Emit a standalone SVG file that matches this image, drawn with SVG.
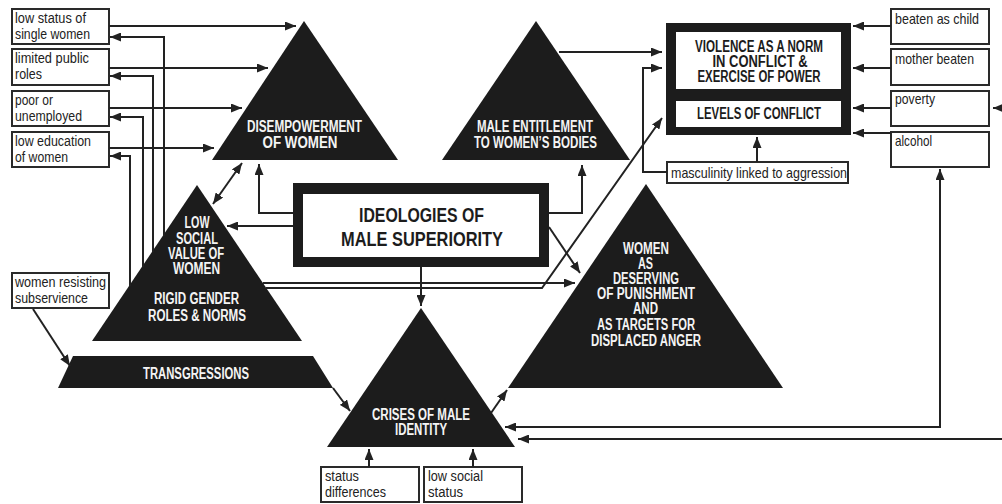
<svg xmlns="http://www.w3.org/2000/svg" width="1002" height="504" viewBox="0 0 1002 504">
<defs>
<style>
.box{fill:#fff;stroke:#2a2a2a;stroke-width:2}
.tri{fill:#1c1c1c}
.lbl{font-family:"Liberation Sans Narrow","Liberation Sans",Arial,sans-serif;font-size:15px;fill:#222}
.l2{font-size:14px}
.wt{font-family:"Liberation Sans Narrow","Liberation Sans",Arial,sans-serif;font-size:16px;font-weight:bold;fill:#f4f4f4;text-anchor:middle}
.bk{font-family:"Liberation Sans Narrow","Liberation Sans",Arial,sans-serif;font-size:16px;font-weight:bold;fill:#1c1c1c;text-anchor:middle}
.big{font-size:21px}
.ln{fill:none;stroke:#222;stroke-width:2;marker-end:url(#ah)}
.dbl{marker-start:url(#ah)}
</style>
<marker id="ah" viewBox="0 0 11 9" refX="11" refY="4.5" markerWidth="11" markerHeight="9" markerUnits="userSpaceOnUse" orient="auto-start-reverse">
<path d="M0,0 L11,4.5 L0,9 z" fill="#222"/>
</marker>
</defs>

<g id="n-single"><rect class="box" x="12" y="9" width="97" height="35"/><text class="lbl l2"><tspan x="15" y="23" textLength="71" lengthAdjust="spacingAndGlyphs">low status of</tspan><tspan x="15" y="38.6" textLength="75" lengthAdjust="spacingAndGlyphs">single women</tspan></text></g>
<g id="n-public"><rect class="box" x="12" y="49" width="97" height="36"/><text class="lbl l2"><tspan x="15" y="63" textLength="74" lengthAdjust="spacingAndGlyphs">limited public</tspan><tspan x="15" y="78.6" textLength="27" lengthAdjust="spacingAndGlyphs">roles</tspan></text></g>
<g id="n-poor"><rect class="box" x="12" y="91" width="97" height="35"/><text class="lbl l2"><tspan x="15" y="105" textLength="38" lengthAdjust="spacingAndGlyphs">poor or</tspan><tspan x="15" y="120.6" textLength="67" lengthAdjust="spacingAndGlyphs">unemployed</tspan></text></g>
<g id="n-edu"><rect class="box" x="12" y="132" width="97" height="35"/><text class="lbl l2"><tspan x="15" y="146" textLength="76" lengthAdjust="spacingAndGlyphs">low education</tspan><tspan x="15" y="161.6" textLength="53" lengthAdjust="spacingAndGlyphs">of women</tspan></text></g>
<g id="n-resist"><rect class="box" x="12" y="273" width="97" height="35"/><text class="lbl l2"><tspan x="15" y="287" textLength="91" lengthAdjust="spacingAndGlyphs">women resisting</tspan><tspan x="15" y="302.6" textLength="73" lengthAdjust="spacingAndGlyphs">subservience</tspan></text></g>

<g id="n-child"><rect class="box" x="891" y="9" width="98" height="35"/><text class="lbl" x="895" y="24" textLength="84" lengthAdjust="spacingAndGlyphs">beaten as child</text></g>
<g id="n-mother"><rect class="box" x="891" y="49" width="98" height="36"/><text class="lbl" x="895" y="64" textLength="79" lengthAdjust="spacingAndGlyphs">mother beaten</text></g>
<g id="n-poverty"><rect class="box" x="891" y="91" width="98" height="35"/><text class="lbl" x="895" y="104" textLength="40" lengthAdjust="spacingAndGlyphs">poverty</text></g>
<g id="n-alcohol"><rect class="box" x="891" y="132" width="98" height="35"/><text class="lbl" x="895" y="146" textLength="37" lengthAdjust="spacingAndGlyphs">alcohol</text></g>
<g id="n-masc"><rect class="box" x="667" y="162" width="181" height="21"/><text class="lbl" x="671" y="178" textLength="176" lengthAdjust="spacingAndGlyphs">masculinity linked to aggression</text></g>
<g id="n-statusdiff"><rect class="box" x="321" y="467" width="98" height="35"/><text class="lbl l2"><tspan x="325" y="481" textLength="34" lengthAdjust="spacingAndGlyphs">status</tspan><tspan x="325" y="496.6" textLength="61" lengthAdjust="spacingAndGlyphs">differences</tspan></text></g>
<g id="n-lowstatus"><rect class="box" x="424" y="467" width="98" height="35"/><text class="lbl l2"><tspan x="428" y="481" textLength="55" lengthAdjust="spacingAndGlyphs">low social</tspan><tspan x="428" y="496.6" textLength="35" lengthAdjust="spacingAndGlyphs">status</tspan></text></g>

<g id="n-disempower"><polygon class="tri" points="304,21 398,160 212,160"/><text class="wt"><tspan x="304.5" y="132" textLength="115" lengthAdjust="spacingAndGlyphs">DISEMPOWERMENT</tspan><tspan x="300" y="148" textLength="75" lengthAdjust="spacingAndGlyphs">OF WOMEN</tspan></text></g>
<g id="n-entitle"><polygon class="tri" points="536,21 630,160 442,160"/><text class="wt"><tspan x="535" y="132" textLength="116" lengthAdjust="spacingAndGlyphs">MALE ENTITLEMENT</tspan><tspan x="535.5" y="148" textLength="123" lengthAdjust="spacingAndGlyphs">TO WOMEN’S BODIES</tspan></text></g>
<g id="n-lowvalue"><polygon class="tri" points="197,185 302,341 92,341"/>
<text class="wt"><tspan x="197" y="228" textLength="25" lengthAdjust="spacingAndGlyphs">LOW</tspan><tspan x="197" y="244" textLength="42" lengthAdjust="spacingAndGlyphs">SOCIAL</tspan><tspan x="196" y="259" textLength="56" lengthAdjust="spacingAndGlyphs">VALUE OF</tspan><tspan x="196.5" y="274" textLength="47" lengthAdjust="spacingAndGlyphs">WOMEN</tspan><tspan x="196.5" y="304" textLength="85" lengthAdjust="spacingAndGlyphs">RIGID GENDER</tspan><tspan x="197" y="321" textLength="98" lengthAdjust="spacingAndGlyphs">ROLES &amp; NORMS</tspan></text></g>
<g id="n-deserve"><polygon class="tri" points="646,184 783,388 508,388"/>
<text class="wt"><tspan x="646" y="254" textLength="46" lengthAdjust="spacingAndGlyphs">WOMEN</tspan><tspan x="645.5" y="269" textLength="15" lengthAdjust="spacingAndGlyphs">AS</tspan><tspan x="646" y="284" textLength="66" lengthAdjust="spacingAndGlyphs">DESERVING</tspan><tspan x="646" y="299" textLength="98" lengthAdjust="spacingAndGlyphs">OF PUNISHMENT</tspan><tspan x="645.5" y="314" textLength="25" lengthAdjust="spacingAndGlyphs">AND</tspan><tspan x="646" y="330" textLength="98" lengthAdjust="spacingAndGlyphs">AS TARGETS FOR</tspan><tspan x="646" y="346" textLength="110" lengthAdjust="spacingAndGlyphs">DISPLACED ANGER</tspan></text></g>
<g id="n-crisis"><polygon class="tri" points="421,308 515,447 327,447"/><text class="wt"><tspan x="421" y="420" textLength="98" lengthAdjust="spacingAndGlyphs">CRISES OF MALE</tspan><tspan x="421" y="435" textLength="52" lengthAdjust="spacingAndGlyphs">IDENTITY</tspan></text></g>
<g id="n-trans"><polygon class="tri" points="73,356 313,356 333,388 58,388"/><text class="wt" x="196" y="379" textLength="106" lengthAdjust="spacingAndGlyphs">TRANSGRESSIONS</text></g>
<g id="n-violence"><rect x="666" y="23" width="185" height="112" fill="#1c1c1c"/><rect x="676" y="32" width="165" height="57" fill="#fff"/><rect x="676" y="101" width="165" height="26" fill="#fff"/>
<text class="bk"><tspan x="759" y="52" textLength="128" lengthAdjust="spacingAndGlyphs">VIOLENCE AS A NORM</tspan><tspan x="760" y="67" textLength="95" lengthAdjust="spacingAndGlyphs">IN CONFLICT &amp;</tspan><tspan x="759" y="82" textLength="123" lengthAdjust="spacingAndGlyphs">EXERCISE OF POWER</tspan></text>
<text class="bk" x="759" y="119" textLength="124" lengthAdjust="spacingAndGlyphs">LEVELS OF CONFLICT</text></g>
<g id="n-ideology"><rect x="293" y="183" width="256" height="84" fill="#1c1c1c"/><rect x="303" y="194" width="236" height="63" fill="#fff"/>
<text class="bk big"><tspan x="421.5" y="222" textLength="125" lengthAdjust="spacingAndGlyphs">IDEOLOGIES OF</tspan><tspan x="422" y="246" textLength="162" lengthAdjust="spacingAndGlyphs">MALE SUPERIORITY</tspan></text></g>

<g id="connectors">
<path class="ln" d="M109,26 H296"/>
<path class="ln" d="M109,68 H268"/>
<path class="ln" d="M109,108 H242"/>
<path class="ln" d="M109,148 H214"/>
<path class="ln" d="M164,236 V37 H110"/>
<path class="ln" d="M153,252 V76 H110"/>
<path class="ln" d="M143,267 V117 H110"/>
<path class="ln" d="M130,286 V156 H110"/>
<path class="ln dbl" d="M242,163 L213,204"/>
<path class="ln" d="M293,213 H259 V164"/>
<path class="ln" d="M293,226 H227"/>
<path class="ln" d="M549,213 H582 V165"/>
<path class="ln" d="M549,227 L580,273"/>
<path class="ln" d="M421,267 V306"/>
<path class="ln" d="M263,283 H575"/>
<path class="ln" d="M266,288 H542 L662,118"/>
<path class="ln" d="M559,52 H662"/>
<path class="ln" d="M667,172 H643 V68 H662"/>
<path class="ln" d="M757,162 V137"/>
<path class="ln" d="M891,26 H853"/>
<path class="ln" d="M891,68 H853"/>
<path class="ln" d="M891,108 H853"/>
<path class="ln" d="M891,133 H853"/>
<path class="ln" d="M1004,108 H993"/>
<path class="ln dbl" d="M505,427 H940 V169"/>
<path class="ln" d="M1004,439 H518"/>
<path class="ln" d="M33,309 L70,366"/>
<path class="ln" d="M333,388 L350,411"/>
<path class="ln" d="M491,413 L507,390"/>
<path class="ln" d="M369,467 V449"/>
<path class="ln" d="M473,467 V449"/>
</g>
</svg>
